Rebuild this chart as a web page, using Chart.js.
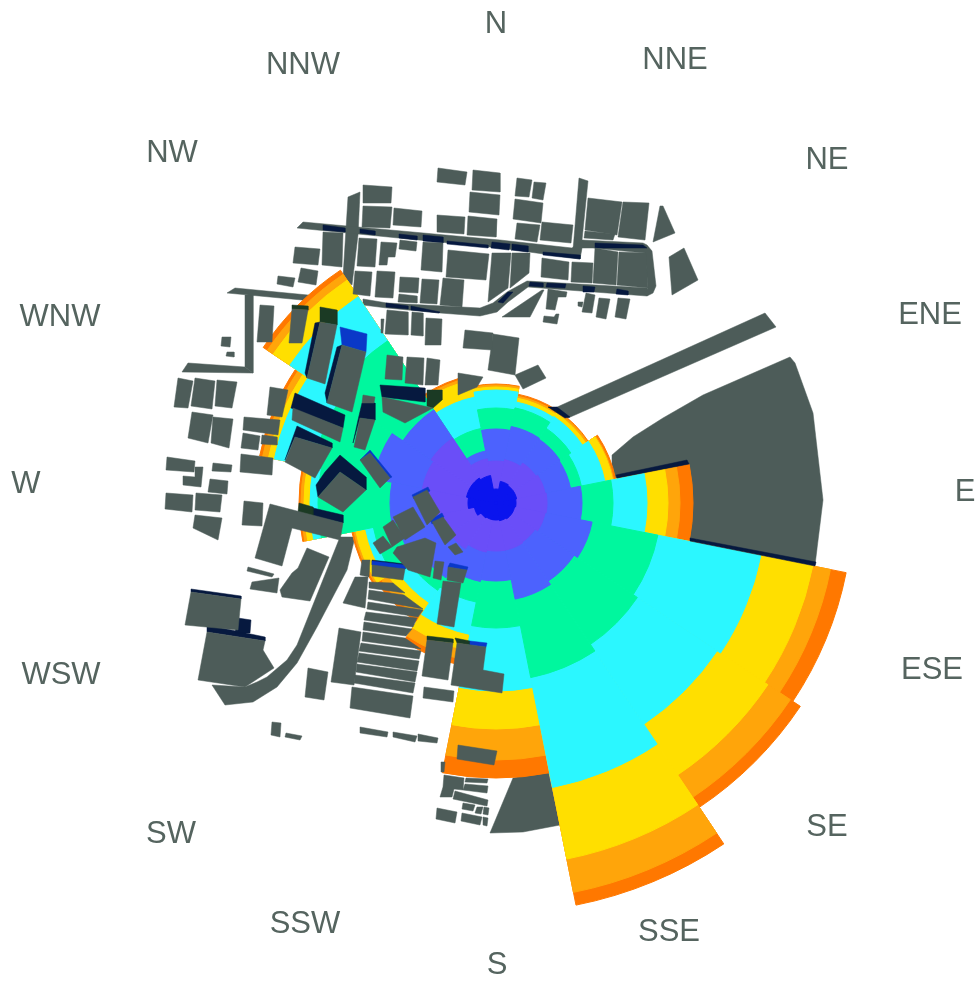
<!DOCTYPE html>
<html>
<head>
<meta charset="utf-8">
<title>Wind rose over site plan</title>
<style>
  html, body { margin: 0; padding: 0; background: #fff; }
  canvas { display: block; }
</style>
<script src="https://cdn.jsdelivr.net/npm/chart.js@4/dist/chart.umd.js"></script>
</head>
<body>
<canvas id="rose" width="980" height="983"></canvas>
<script>
// compass sectors, clockwise from north
const directions = ['N', 'NNE', 'NE', 'ENE', 'E', 'ESE', 'SE', 'SSE', 'S', 'SSW', 'SW', 'WSW', 'W', 'WNW', 'NW', 'NNW'];

// where each compass label sits on the plan
const labelX = [496, 675, 827, 930, 965, 932, 827, 669, 497, 305, 171, 61, 26, 60, 172, 303];
const labelY = [24, 60, 160, 315, 492, 670, 827, 932, 965, 924, 834, 675, 484, 317, 153, 65];

// outer limit of each colour band per sector
const coreBand = [14, 22, 21, 21, 20, 19, 19, 18, 17, 17, 18, 22, 28, 30, 30, 28];
const violetBand = [42, 44, 48, 50, 51, 50, 47, 48, 48, 50, 55, 65, 73, 75, 78, 45];
const periBand = [74, 78, 77, 76, 86, 98, 94, 98, 78, 80, 90, 100, 106, 125, 112, 53];
const greenBand = [95, 97, 90, 87, 117, 165, 170, 178, 125, 101, 105, 125, 178, 187, 195, 76];
const cyanBand = [113, 103, 104, 111, 151, 270, 266, 290, 188, 134, 120, 133, 186, 226, 248, 108];
const yellowBand = [116, 107, 108, 119, 172, 323, 327, 363, 226, 150, 130, 143, 192, 232, 268, 125];
const amberBand = [118, 109, 110, 120, 184, 341, 354, 397, 257, 160, 138, 145, 195, 238, 275, 128];
const orangeBand = [119, 111, 111, 122, 197, 357, 366, 410, 275, 166, 143, 147, 197, 241, 280, 130];

// site plan outlines as x,y lists: ground shapes go under the rose
const groundShapes = [
  [612,455, 633,437, 663,418, 703,395, 790,357, 795,363, 813,413, 823,500, 815,565, 650,530, 612,480],
  [490,833, 513,778, 548,770, 560,825, 523,832],
  [555,408, 765,313, 776,327, 568,418],
  [297,228, 303,222, 500,240, 572,248, 582,240, 582,248, 580,259, 500,248],
  [348,197, 360,192, 358,235, 352,285, 343,277],
  [579,178, 588,181, 582,240, 580,259, 573,250],
  [582,240, 643,243, 647,245, 652,251, 656,286, 653,293, 647,296, 644,293, 648,288, 645,253, 593,248, 582,248],
  [363,299, 387,303, 480,308, 493,303, 507,292, 527,281, 647,288, 647,296, 528,287, 508,302, 497,312, 480,316, 440,313, 387,308, 363,305],
  [227,293, 235,288, 360,300, 360,306, 302,300],
  [245,295, 253,295, 253,373, 245,367],
  [182,372, 188,363, 245,367, 253,373],
  [212,685, 245,687, 257,682, 267,677, 287,660, 297,645, 303,630, 340,537, 355,537, 347,570, 317,627, 307,645, 297,663, 277,687, 253,702, 225,705]
];

// roofs, drawn over the rose
const roofShapes = [
  [438,168, 467,172, 465,185, 437,182], [473,170, 500,173, 500,192, 472,190], [470,192, 500,195, 499,215, 469,212],
  [363,185, 392,187, 391,203, 363,203], [363,206, 392,207, 390,228, 362,227], [394,208, 422,211, 421,227, 393,225],
  [437,215, 465,217, 464,234, 437,232], [468,216, 497,219, 496,237, 467,235], [323,232, 343,233, 342,267, 322,265],
  [295,247, 320,249, 318,265, 293,263], [301,268, 318,271, 316,285, 298,282], [278,276, 295,278, 293,287, 277,284],
  [359,238, 377,239, 375,267, 357,266], [381,242, 397,243, 395,257, 388,257, 387,265, 379,265], [400,240, 417,242, 416,251, 399,249],
  [423,242, 443,243, 442,272, 421,270], [448,250, 489,254, 486,280, 446,277], [355,271, 372,272, 370,296, 353,294],
  [377,271, 395,272, 393,298, 375,297], [400,277, 419,278, 418,293, 399,292], [399,294, 417,296, 417,303, 398,302],
  [422,279, 439,280, 437,304, 420,303], [443,278, 464,280, 462,307, 440,305],
  [517,178, 532,180, 529,197, 515,196], [534,182, 546,183, 543,200, 532,198], [515,199, 543,203, 541,223, 513,219],
  [517,223, 540,225, 537,242, 515,239], [542,222, 573,225, 571,243, 540,240], [588,198, 622,202, 617,235, 585,230],
  [585,231, 615,234, 613,240, 584,238], [623,202, 649,203, 645,240, 618,237], [660,206, 663,206, 675,233, 653,242],
  [669,257, 684,248, 698,280, 672,295], [492,253, 511,253, 508,288, 488,302], [512,253, 530,253, 529,273, 510,288],
  [542,258, 569,262, 568,280, 541,277], [572,262, 593,263, 592,283, 571,282], [595,248, 618,252, 616,285, 593,283],
  [619,252, 646,253, 648,288, 617,285], [502,317, 542,290, 544,290, 530,317], [548,289, 567,292, 566,297, 558,297, 555,310, 546,309],
  [544,316, 554,317, 556,314, 559,314, 557,324, 543,322], [586,293, 595,295, 592,313, 582,312], [578,302, 583,302, 582,307, 578,306],
  [599,298, 610,299, 606,319, 596,317], [618,298, 630,299, 626,319, 615,317], [465,330, 493,333, 492,350, 463,348],
  [493,334, 519,338, 515,375, 488,370], [387,310, 408,312, 408,335, 385,334], [412,312, 423,313, 423,336, 411,335],
  [426,318, 442,319, 441,345, 425,345], [381,319, 384,319, 383,333, 381,333], [387,355, 403,357, 402,380, 385,379],
  [407,357, 424,358, 423,385, 405,383], [427,358, 440,360, 438,385, 425,385], [458,373, 483,377, 477,387, 458,395],
  [515,375, 538,365, 546,378, 523,389], [382,397, 433,408, 405,423, 383,412], [413,497, 427,490, 440,512, 427,525],
  [393,517, 413,507, 425,527, 405,540], [383,527, 393,520, 405,538, 392,547], [373,543, 383,536, 392,547, 380,554],
  [432,522, 443,517, 456,535, 445,545], [448,547, 456,543, 463,552, 455,555], [397,547, 425,538, 436,543, 430,577, 408,570, 393,553],
  [435,561, 444,562, 441,580, 433,578], [448,567, 467,570, 463,583, 447,580], [372,565, 405,569, 403,580, 372,576],
  [369,582, 393,583, 405,593, 369,588], [369,590, 404,595, 423,609, 368,599], [368,602, 423,610, 418,617, 367,609],
  [366,612, 417,618, 413,627, 364,620], [364,622, 412,629, 406,636, 363,630], [363,632, 405,638, 421,649, 362,641],
  [361,643, 421,651, 419,659, 359,651], [359,653, 419,661, 417,671, 357,662], [357,664, 417,672, 415,682, 356,672],
  [355,675, 415,683, 413,693, 354,683], [352,687, 413,696, 410,718, 350,708], [339,628, 361,632, 354,685, 331,682],
  [343,603, 355,577, 368,577, 365,608], [362,560, 370,560, 369,577, 360,575], [360,727, 388,732, 387,737, 360,733],
  [393,732, 417,736, 415,742, 393,737], [418,734, 438,738, 437,743, 418,741], [424,687, 454,691, 453,702, 423,698],
  [427,640, 453,643, 448,680, 422,676], [457,643, 486,647, 483,670, 504,674, 502,693, 451,685], [443,581, 461,583, 454,627, 437,624],
  [458,745, 497,751, 494,765, 457,759], [441,762, 445,762, 444,772, 441,772],
  [444,775, 464,778, 463,790, 454,789, 452,797, 440,797, 443,787], [466,778, 488,779, 487,783, 465,782], [465,784, 488,786, 487,793, 463,790],
  [455,791, 488,800, 487,806, 453,799], [463,803, 475,805, 473,811, 462,809], [477,807, 483,807, 481,814, 475,813],
  [484,807, 489,808, 488,815, 483,814], [437,808, 457,812, 455,823, 436,819], [462,813, 482,817, 480,825, 461,821],
  [483,817, 488,818, 487,826, 483,825], [191,592, 241,599, 238,630, 185,625],
  [207,632, 265,641, 263,650, 274,668, 245,687, 198,680], [308,668, 328,672, 324,700, 305,697], [272,722, 281,723, 280,737, 271,735],
  [286,733, 302,736, 300,740, 285,737], [167,457, 195,461, 194,472, 166,470], [195,467, 203,467, 201,487, 183,485, 183,476, 195,477],
  [213,463, 232,465, 231,472, 212,471], [210,479, 228,481, 227,494, 208,492], [166,493, 193,495, 192,512, 165,509],
  [196,493, 222,495, 220,512, 195,510], [195,515, 222,518, 218,540, 193,528], [244,501, 263,503, 262,526, 242,525],
  [270,504, 343,523, 340,540, 292,528, 282,566, 255,558], [241,454, 273,458, 272,475, 240,472], [248,567, 274,574, 272,577, 247,571],
  [252,582, 279,578, 277,593, 250,589], [307,548, 329,557, 310,601, 282,597, 280,590, 292,573, 298,568],
  [222,337, 231,337, 230,347, 221,346], [227,352, 234,352, 234,357, 226,356], [260,305, 274,306, 272,342, 257,342],
  [292,309, 308,310, 302,343, 289,343], [178,378, 193,381, 188,408, 174,407], [195,378, 215,381, 212,409, 191,406],
  [217,380, 237,382, 232,408, 215,406], [192,412, 213,415, 208,443, 188,438], [213,417, 233,419, 229,448, 211,443],
  [270,387, 288,390, 282,417, 267,415], [244,417, 280,420, 278,435, 243,430], [243,433, 260,436, 258,450, 241,448],
  [262,435, 277,437, 277,445, 261,444], [320,322, 337,325, 325,384, 307,378], [342,345, 366,352, 352,412, 327,403],
  [293,408, 343,428, 340,442, 292,420], [295,437, 332,448, 315,478, 285,462], [360,418, 375,420, 365,450, 354,447],
  [363,395, 375,397, 374,403, 362,403], [340,472, 366,490, 343,512, 318,497], [360,460, 370,453, 390,478, 380,488]
];

// dark cast shadows
const navyShadows = [
  [616,475, 687,460, 689,464, 617,478], [690,538, 816,562, 815,566, 690,541], [548,407, 557,407, 570,417, 565,418],
  [323,225, 345,228, 345,232, 323,230], [360,229, 375,231, 375,235, 360,233], [399,234, 417,236, 417,240, 399,238],
  [423,235, 443,237, 443,243, 423,241], [447,241, 488,245, 488,248, 447,244], [492,242, 510,244, 509,250, 491,248],
  [512,244, 528,246, 528,252, 511,250], [543,252, 580,255, 580,259, 543,255], [595,243, 643,245, 647,248, 595,248],
  [530,282, 543,283, 543,287, 529,286], [547,283, 566,284, 565,288, 546,287], [583,286, 595,287, 594,292, 583,292],
  [617,289, 628,291, 628,295, 616,294], [498,302, 508,292, 513,292, 503,303], [386,303, 408,306, 408,309, 386,307],
  [411,306, 440,312, 439,313, 411,310], [380,385, 425,388, 425,402, 382,397], [372,560, 405,564, 405,569, 372,565],
  [191,589, 241,596, 241,599, 191,592], [238,618, 251,620, 250,633, 235,633], [207,625, 265,637, 265,641, 207,632],
  [295,393, 345,415, 343,428, 291,408], [297,426, 332,443, 332,448, 295,437, 285,460, 292,440],
  [362,403, 375,403, 375,420, 360,418, 353,443, 358,420], [340,455, 366,477, 366,490, 340,472, 318,497, 316,485, 325,472],
  [313,508, 343,515, 343,523, 313,516], [327,403, 342,345, 337,347, 325,393], [307,378, 320,322, 315,323, 305,373]
];

// the same shadows where they fall on the warm bands
const oliveShadows = [
  [320,307, 337,310, 337,325, 320,322], [427,390, 442,390, 442,400, 433,408, 427,406], [299,503, 313,507, 313,516, 298,512],
  [427,636, 453,639, 453,643, 427,640], [292,305, 308,306, 308,310, 292,309], [455,638, 470,641, 470,645, 457,643]
];

// lighter blue shadows where they fall on cool colours
const blueShadows = [
  [340,327, 367,334, 366,352, 342,345], [412,495, 428,487, 430,491, 414,499], [430,520, 442,513, 444,517, 432,524],
  [450,563, 468,567, 467,570, 448,567], [470,641, 487,643, 486,647, 470,645], [360,460, 370,450, 392,477, 390,478, 370,453],
  [372,561, 405,565, 405,569, 372,565]
];

const rings = [
  { values: coreBand, color: '#0a14ee' },
  { values: violetBand, color: '#6a4ef8' },
  { values: periBand, color: '#4c62fe' },
  { values: greenBand, color: '#00f79e' },
  { values: cyanBand, color: '#2bf7ff' },
  { values: yellowBand, color: '#ffdf00' },
  { values: amberBand, color: '#ffa50a' },
  { values: orangeBand, color: '#ff7800' }
];

const shapeColor = '#4d5c59';

function toPoints(flat) {
  const pts = [];
  for (let i = 0; i < flat.length; i += 2) {
    pts.push({ x: flat[i], y: flat[i + 1] });
  }
  pts.push({ x: flat[0], y: flat[1] });
  return pts;
}

function shapeDataset(flat, color, order) {
  return {
    type: 'scatter',
    data: toPoints(flat),
    showLine: true,
    fill: 'shape',
    backgroundColor: color,
    borderColor: color,
    borderWidth: 0.5,
    pointRadius: 0,
    order: order
  };
}

const datasets = [];
roofShapes.forEach(s => datasets.push(shapeDataset(s, shapeColor, 0)));
blueShadows.forEach(s => datasets.push(shapeDataset(s, '#0a38c8', 1)));
oliveShadows.forEach(s => datasets.push(shapeDataset(s, '#1b3a24', 1)));
navyShadows.forEach(s => datasets.push(shapeDataset(s, '#06193f', 2)));
rings.forEach((ring, i) => {
  datasets.push({
    type: 'polarArea',
    data: ring.values,
    backgroundColor: ring.color,
    borderColor: ring.color,
    borderWidth: 1,
    order: 3 + i
  });
});
groundShapes.forEach(s => datasets.push(shapeDataset(s, shapeColor, 20)));

// compass labels, placed through the plan's own axes
const compassLabels = {
  id: 'compassLabels',
  afterDraw(chart) {
    const { ctx, scales } = chart;
    ctx.save();
    ctx.fillStyle = '#55645f';
    ctx.font = '31px "Liberation Sans", Arial, sans-serif';
    ctx.textAlign = 'center';
    ctx.textBaseline = 'middle';
    directions.forEach((d, i) => {
      ctx.fillText(d, scales.x.getPixelForValue(labelX[i]), scales.y.getPixelForValue(labelY[i]));
    });
    ctx.restore();
  }
};

new Chart(document.getElementById('rose'), {
  type: 'scatter',
  data: { labels: directions, datasets: datasets },
  options: {
    responsive: false,
    animation: false,
    events: [],
    layout: { padding: { left: 12, top: 23, right: 0, bottom: 0 } },
    plugins: { legend: { display: false }, tooltip: { enabled: false } },
    scales: {
      x: { type: 'linear', min: 12, max: 980, display: false },
      y: { type: 'linear', min: 23, max: 983, reverse: true, display: false },
      r: { type: 'radialLinear', min: 0, max: 480, startAngle: -11.25, display: false }
    }
  },
  plugins: [compassLabels]
});
</script>
</body>
</html>
